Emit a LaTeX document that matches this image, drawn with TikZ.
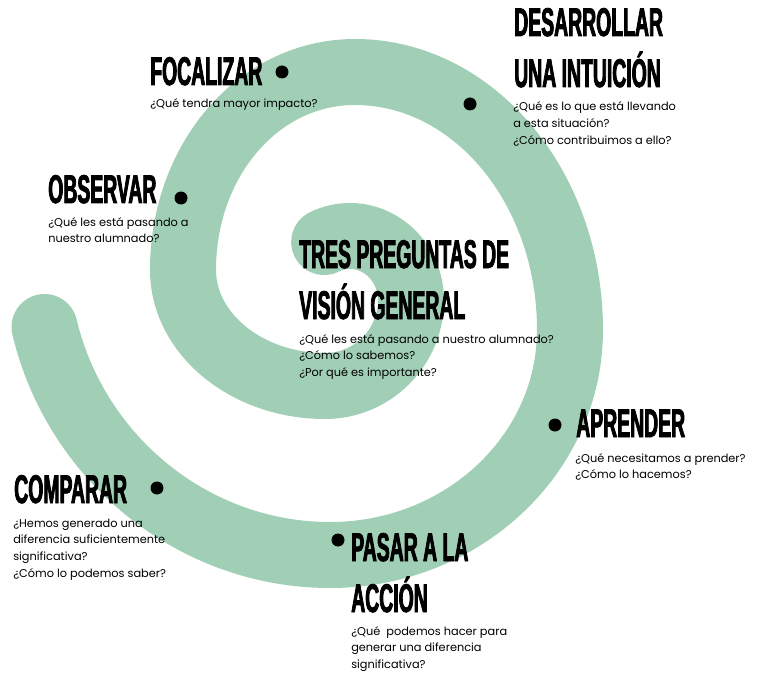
\documentclass[tikz,border=0pt]{standalone}
\usepackage{fontspec}
\setmainfont{Poppins}
\newfontfamily\titlefont{Liberation Sans Bold}[FakeStretch=0.485, FakeBold=2]
\definecolor{spiralgreen}{RGB}{161,207,181}
\tikzset{
  band/.style={draw=spiralgreen, line width=49.5pt, line cap=round, line join=round},
  ttl/.style={anchor=base west, inner sep=0pt, font=\titlefont\fontsize{30}{38.25}\selectfont},
  desc/.style={anchor=base west, inner sep=0pt, font=\fontsize{8.5}{12.6}\selectfont},
  dotn/.style={circle, fill=black, inner sep=0pt, minimum size=9.75pt},
}
\newcommand{\lines}[1]{\begin{tabular}[t]{@{}l@{}}#1\end{tabular}}
\begin{document}
\begin{tikzpicture}[x=0.75pt,y=-0.75pt]
\useasboundingbox (0,0) rectangle (758,685);
% spiral
\draw[band] (44.5,327) .. controls (76.2,459.5) and (194.4,555) .. (330,555)
  .. controls (462.5,555) and (570,454.3) .. (570,330)
  .. controls (570,187.5) and (473.7,72) .. (355,72)
  .. controls (258,72) and (183,160.6) .. (183,270)
  .. controls (183,334) and (247.1,386) .. (325,386)
  .. controls (372.5,386) and (411,347.5) .. (411,300)
  .. controls (411,265) and (383.7,236) .. (350,236)
  .. controls (341.1,236) and (332.3,238) .. (324.2,242);
% dots
\node[dotn] (dfoc) at (282,72) {};
\node[dotn] (ddes) at (470,104) {};
\node[dotn] (dobs) at (181,198) {};
\node[dotn] (dapr) at (555,425) {};
\node[dotn] (dcom) at (157,488) {};
\node[dotn] (dpas) at (338,540) {};
% titles
\node[ttl] (tfoc) at (150,85) {FOCALIZAR};
\node[ttl] (tdes) at (514,36) {\lines{DESARROLLAR\\UNA INTUICIÓN}};
\node[ttl] (tobs) at (48,203) {OBSERVAR};
\node[ttl] (ttres) at (299,268) {\lines{TRES PREGUNTAS DE\\VISIÓN GENERAL}};
\node[ttl] (tapr) at (576,437) {APRENDER};
\node[ttl] (tcom) at (14,503) {COMPARAR};
\node[ttl] (tpas) at (351,561) {\lines{PASAR A LA\\ACCIÓN}};
% descriptions
\node[desc] (qfoc) at (150,108) {¿Qué tendra mayor impacto?};
\node[desc] (qdes) at (513,111) {\lines{¿Qué es lo que está llevando\\a esta situación?\\¿Cómo contribuimos a ello?}};
\node[desc] (qobs) at (48,226) {\lines{¿Qué les está pasando a\\nuestro alumnado?}};
\node[desc] (qtres) at (299,343) {\lines{¿Qué les está pasando a nuestro alumnado?\\¿Cómo lo sabemos?\\¿Por qué es importante?}};
\node[desc] (qapr) at (575,462) {\lines{¿Qué necesitamos a prender?\\¿Cómo lo hacemos?}};
\node[desc] (qcom) at (13,527) {\lines{¿Hemos generado una\\diferencia suficientemente\\significativa?\\¿Cómo lo podemos saber?}};
\node[desc] (qpas) at (351,635) {\lines{¿Qué~ podemos hacer para\\generar una diferencia\\significativa?}};
\end{tikzpicture}
\end{document}
